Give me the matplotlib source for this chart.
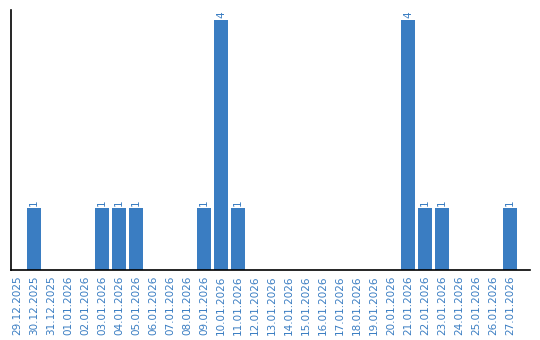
import matplotlib
matplotlib.use("Agg")
import matplotlib.pyplot as plt

dates = ["29.12.2025", "30.12.2025", "31.12.2025", "01.01.2026", "02.01.2026",
         "03.01.2026", "04.01.2026", "05.01.2026", "06.01.2026", "07.01.2026",
         "08.01.2026", "09.01.2026", "10.01.2026", "11.01.2026", "12.01.2026",
         "13.01.2026", "14.01.2026", "15.01.2026", "16.01.2026", "17.01.2026",
         "18.01.2026", "19.01.2026", "20.01.2026", "21.01.2026", "22.01.2026",
         "23.01.2026", "24.01.2026", "25.01.2026", "26.01.2026", "27.01.2026"]
counts = [0, 1, 0, 0, 0, 1, 1, 1, 0, 0,
          0, 1, 4, 1, 0, 0, 0, 0, 0, 0,
          0, 0, 0, 4, 1, 1, 0, 0, 0, 1]

blue = "#3a7dc2"

fig = plt.figure(figsize=(5.4, 3.4), dpi=100)
ax = fig.add_axes([11/540, 70/340, 519/540, 260/340])

x = list(range(len(dates)))
ax.bar(x, counts, width=0.82, color=blue)
for i, c in enumerate(counts):
    if c > 0:
        ax.text(i, c + 0.03, str(c), rotation=90, ha="center", va="bottom",
                color=blue, fontsize=7.5)

ax.set_xlim(-0.35, 30.18)
ax.set_ylim(0, 4.16)
ax.set_xticks(x)
ax.set_xticklabels(dates, rotation=90, color=blue, fontsize=7.5)
ax.tick_params(axis="x", length=0, pad=4)
ax.set_yticks([])
ax.spines["top"].set_visible(False)
ax.spines["right"].set_visible(False)
ax.spines["left"].set_linewidth(1.2)
ax.spines["bottom"].set_linewidth(1.2)

fig.savefig("out.png", dpi=100)
